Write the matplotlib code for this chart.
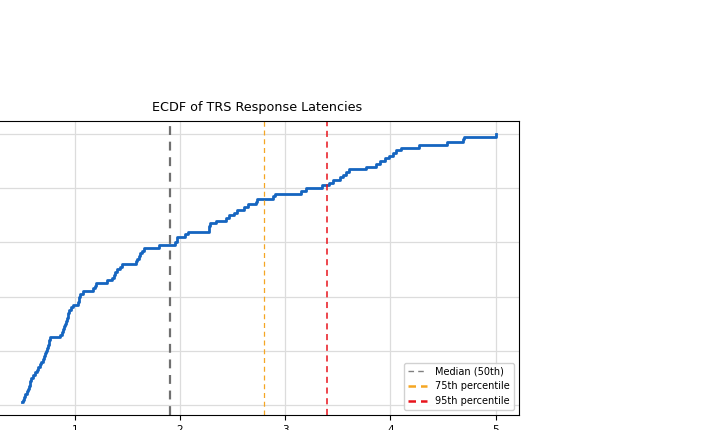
import numpy as np
import matplotlib
matplotlib.use("Agg")
import matplotlib.pyplot as plt
from matplotlib.lines import Line2D

# Sorted TRS response latencies (seconds)
latencies = [
    0.50, 0.51, 0.52, 0.53, 0.548, 0.556, 0.563, 0.571, 0.579, 0.587,
    0.60, 0.62, 0.638, 0.655, 0.67, 0.684, 0.70, 0.712, 0.722, 0.729,
    0.736, 0.744, 0.752, 0.76, 0.768, 0.86, 0.875, 0.89, 0.90, 0.91,
    0.92, 0.928, 0.934, 0.94, 0.946, 0.965, 0.985, 1.03, 1.037, 1.045,
    1.055, 1.08, 1.17, 1.19, 1.205, 1.31, 1.355, 1.37, 1.385, 1.40,
    1.43, 1.445, 1.58, 1.595, 1.607, 1.62, 1.635, 1.66, 1.80, 1.95,
    1.972, 1.976, 2.05, 2.08, 2.275, 2.28, 2.286, 2.34, 2.44, 2.47,
    2.51, 2.54, 2.61, 2.645, 2.72, 2.73, 2.885, 2.90, 3.15, 3.20,
    3.355, 3.42, 3.455, 3.52, 3.55, 3.58, 3.61, 3.77, 3.865, 3.90,
    3.95, 3.99, 4.03, 4.055, 4.10, 4.27, 4.54, 4.69, 4.70, 5.00,
]
median_val = 1.905
p75_val = 2.80
p95_val = 3.40
legend_labels = ["Median (50th)", "75th percentile", "95th percentile"]
title = "ECDF of TRS Response Latencies"
xticks = [1, 2, 3, 4, 5]
yticks = [0.0, 0.2, 0.4, 0.6, 0.8, 1.0]

x = np.sort(np.array(latencies))
y = np.arange(1, len(x) + 1) / len(x)

fig = plt.figure(figsize=(7.1, 4.3), dpi=100)
ax = fig.add_axes([-4 / 710, 15 / 430, 522.7 / 710, 294 / 430])

ax.grid(True, color="#dcdcdc", linewidth=0.9)
ax.set_axisbelow(True)
ax.step(x, y, where="post", color="#1565C0", linewidth=2.0)

ax.axvline(median_val, color="#707070", linestyle=(0, (4, 3)), linewidth=1.6)
ax.axvline(p75_val, color="#F5A623", linestyle=(0, (4, 3)), linewidth=0.9)
ax.axvline(p95_val, color="#E8141C", linestyle=(0, (4, 3)), linewidth=1.1)

handles = [
    Line2D([], [], color="#808080", linestyle=(0, (4, 3)), linewidth=1.0),
    Line2D([], [], color="#F5A623", linestyle=(0, (3, 2)), linewidth=1.8),
    Line2D([], [], color="#E8141C", linestyle=(0, (3, 2)), linewidth=1.8),
]
ax.legend(handles, legend_labels, loc="lower right", fontsize=7, framealpha=0.9)

ax.set_xlim(0.252, 5.22)
ax.set_ylim(-0.037, 1.048)
ax.set_xticks(xticks)
ax.set_yticks(yticks)
ax.tick_params(labelsize=7.5)
ax.set_title(title, fontsize=9.2, pad=7)

fig.savefig("out.png", dpi=100)
